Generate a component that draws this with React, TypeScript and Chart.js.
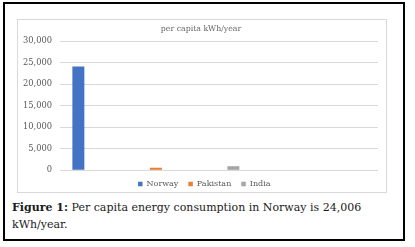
import React, { useEffect, useRef } from "react";
import { Chart, registerables } from "chart.js";

Chart.register(...registerables);

const countries = ["Norway", "Pakistan", "India"];
const perCapitaKWh = [24006, 450, 800];
const barColors = ["#4472C4", "#ED7D31", "#A5A5A5"];
const yTickValues = [0, 5000, 10000, 15000, 20000, 25000, 30000];
const chartTitle = "per capita kWh/year";
const captionLabel = "Figure 1:";
const captionLine1 = " Per capita energy consumption in Norway is 24,006";
const captionLine2 = "kWh/year.";

const FONT = "'DejaVu Serif', serif";

// re-centre the title and legend on the framed chart box rather than the canvas
const centerBlocks = {
  id: "centerBlocks",
  afterLayout(chart: any) {
    if (chart.legend) {
      chart.legend.left = 30.6;
      chart.legend.right = 378;
    }
    if (chart.titleBlock) {
      chart.titleBlock.left = 24;
      chart.titleBlock.right = 378;
    }
  },
};

export default function App() {
  const canvasRef = useRef<HTMLCanvasElement | null>(null);

  useEffect(() => {
    const canvas = canvasRef.current;
    if (!canvas) return;
    const chart = new Chart(canvas, {
      type: "bar",
      data: {
        datasets: countries.map((name, i) => ({
          label: name,
          data: [{ x: i, y: perCapitaKWh[i] }],
          backgroundColor: barColors[i],
          borderWidth: 0,
          barThickness: 11.3,
          stack: "all",
        })),
      },
      plugins: [centerBlocks],
      options: {
        responsive: false,
        animation: false,
        maintainAspectRatio: false,
        layout: { padding: { left: 0, right: 26, top: 0, bottom: 0 } },
        plugins: {
          title: {
            display: true,
            text: chartTitle,
            color: "#666666",
            font: { family: FONT, size: 7.8, weight: "normal" },
            padding: { top: 4.5, bottom: 7.14 },
          },
          legend: {
            display: true,
            position: "bottom",
            labels: {
              boxWidth: 4.5,
              boxHeight: 4.5,
              padding: 10,
              color: "#595959",
              font: { family: FONT, size: 8 },
            },
          },
          tooltip: { enabled: false },
        },
        scales: {
          x: {
            type: "linear",
            display: false,
            offset: false,
            min: -0.237,
            max: 3.866,
          },
          y: {
            min: 0,
            max: 30000,
            afterFit: (scale: any) => {
              scale.width = 60;
            },
            afterBuildTicks: (scale: any) => {
              scale.ticks = yTickValues.map((v) => ({ value: v }));
            },
            ticks: {
              padding: 8,
              color: "#595959",
              font: { family: FONT, size: 8.3 },
              callback: (v: any) => Number(v).toLocaleString("en-US"),
            },
            grid: { color: "#D9D9D9", lineWidth: 1, drawTicks: false },
            border: { display: false },
          },
        },
      },
    });
    return () => chart.destroy();
  }, []);

  return (
    <div style={{ position: "relative", width: 415, height: 247 }}>
      <style>{`body{margin:0}`}</style>
      <div
        style={{
          position: "absolute",
          left: 3,
          top: 2,
          width: 402,
          height: 239,
          boxSizing: "border-box",
          border: "2px solid #000",
          background: "#fff",
        }}
      />
      <div
        style={{
          position: "absolute",
          left: 17,
          top: 19,
          width: 370,
          height: 174,
          boxSizing: "border-box",
          border: "1px solid #D9D9D9",
        }}
      />
      <canvas
        ref={canvasRef}
        width={404}
        height={178}
        style={{ position: "absolute", left: 0, top: 20, width: 404, height: 178 }}
      />
      <div
        style={{
          position: "absolute",
          left: 12,
          top: 199,
          fontFamily: FONT,
          fontSize: 11,
          lineHeight: "17px",
          color: "#1a1a1a",
          whiteSpace: "nowrap",
        }}
      >
        <b>{captionLabel}</b>
        {captionLine1}
        <br />
        {captionLine2}
      </div>
    </div>
  );
}
